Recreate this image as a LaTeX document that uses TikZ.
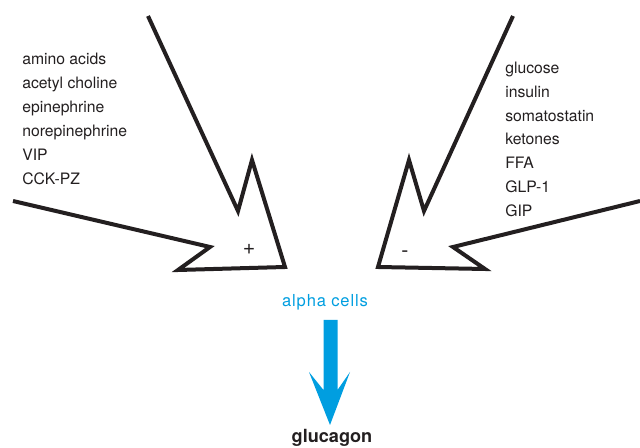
\documentclass[tikz,border=0pt]{standalone}
\usepackage{fontspec}
\setmainfont{TeX Gyre Heros}
\definecolor{cellblue}{RGB}{0,158,224}
\definecolor{inkgray}{RGB}{35,31,32}

\begin{document}
\begin{tikzpicture}[x=0.75pt, y=-0.75pt,
	inlet/.style={line width=3pt, line join=miter, miter limit=12, draw=inkgray},
	agent/.style={anchor=base west, inner sep=0pt, text=inkgray, font=\fontsize{11.8}{14}\selectfont},
	sign/.style={anchor=base, inner sep=0pt, text=inkgray, font=\fontsize{16}{18}\selectfont},
	label/.style={anchor=base, inner sep=0pt, font=\fontsize{12.4}{14}\selectfont}]
	\useasboundingbox (0,0) rectangle (640,448);

	% stimulating inlet
	\draw[inlet] (148,16) -- (238,211) -- (252,160) -- (285,267)
		-- (178,270) -- (210,247) -- (13,201);
	\node[sign] (plus) at (249,255) {+};

	% inhibiting inlet
	\draw[inlet] (513,16) -- (424,211) -- (409,160) -- (378,267)
		-- (485,269) -- (453,247) -- (640,201);
	\node[sign] (minus) at (405,258) {-};

	% stimulators
	\node[agent] (amino) at (22,65) {amino acids};
	\node[agent] (achol) at (22,89) {acetyl choline};
	\node[agent] (epi) at (22,113) {epinephrine};
	\node[agent] (norepi) at (22,137) {norepinephrine};
	\node[agent] (vip) at (22,161) {VIP};
	\node[agent] (cck) at (22,185) {CCK-PZ};

	% inhibitors
	\node[agent] (glc) at (505,74) {glucose};
	\node[agent] (ins) at (505,98) {insulin};
	\node[agent] (som) at (505,122) {somatostatin};
	\node[agent] (ket) at (505,145) {ketones};
	\node[agent] (ffa) at (505,169) {FFA};
	\node[agent] (glp) at (505,193) {GLP-1};
	\node[agent] (gip) at (505,217) {GIP};

	% alpha cells output
	\node[label, text=cellblue] (alpha) at (325,307) {\addfontfeatures{LetterSpace=5}alpha cells};
	\fill[cellblue] (323.5,320) -- (337.5,320) -- (337.5,390) -- (350,372)
		-- (330,425) -- (309,372) -- (323.5,390) -- cycle;
	\node[label, text=inkgray, font=\fontsize{13.6}{16}\selectfont\bfseries] (glucagon) at (332,443) {glucagon};
\end{tikzpicture}
\end{document}
